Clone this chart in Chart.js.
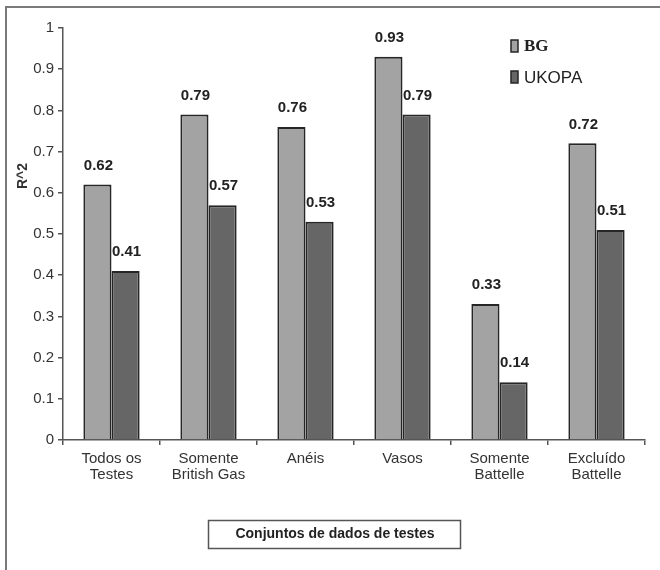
<!DOCTYPE html>
<html>
<head>
<meta charset="utf-8">
<script src="https://cdn.jsdelivr.net/npm/chart.js@4"></script>
<style>
  html, body { margin: 0; padding: 0; background: #fff; }
  #wrap { width: 660px; height: 570px; position: relative; }
</style>
</head>
<body>
<div id="wrap"><canvas id="rChart" width="660" height="570"></canvas></div>
<script>
// categories and values
const categories = [
    ['Todos os', 'Testes'],
    ['Somente', 'British Gas'],
    'Anéis',
    'Vasos',
    ['Somente', 'Battelle'],
    ['Excluído', 'Battelle']
];
const bgValues = [0.62, 0.79, 0.76, 0.93, 0.33, 0.72];
const ukopaValues = [0.41, 0.57, 0.53, 0.79, 0.14, 0.51];
const seriesNames = ['BG', 'UKOPA'];
const axisTitle = 'R^2';
const boxTitle = 'Conjuntos de dados de testes';

const bgFill = '#a3a3a3';
const ukFill = '#666666';
const edge = '#262626';

// frame, value labels, legend and the boxed category caption
const extras = {
    id: 'extras',
    beforeDraw(chart) {
        const c = chart.ctx;
        c.save();
        c.fillStyle = '#fff';
        c.fillRect(0, 0, chart.width, chart.height);
        c.strokeStyle = '#7a7a7a';
        c.lineWidth = 2;
        c.beginPath();
        c.moveTo(6, chart.height + 2);
        c.lineTo(6, 7);
        c.lineTo(chart.width + 2, 7);
        c.stroke();
        c.restore();
    },
    afterDatasetsDraw(chart) {
        const c = chart.ctx;
        c.save();
        c.font = 'bold 15px "Liberation Sans", Arial, sans-serif';
        c.fillStyle = '#222';
        c.textAlign = 'center';
        c.textBaseline = 'middle';
        chart.data.datasets.forEach((ds, i) => {
            chart.getDatasetMeta(i).data.forEach((bar, j) => {
                c.fillText(ds.data[j].toFixed(2), bar.x + 1, bar.y - 19);
            });
        });

        // y axis title
        c.save();
        c.translate(23, 176);
        c.rotate(-Math.PI / 2);
        c.font = 'bold 14px "Liberation Sans", Arial, sans-serif';
        c.fillStyle = '#333';
        c.fillText(axisTitle, 0, 0);
        c.restore();

        // legend
        const fills = [bgFill, ukFill];
        const fonts = ['bold 17px "Liberation Serif", serif', '17px "Liberation Sans", Arial, sans-serif'];
        const ys = [46, 77];
        c.textAlign = 'left';
        seriesNames.forEach((name, i) => {
            c.fillStyle = fills[i];
            c.fillRect(511, ys[i] - 6, 7, 12);
            c.strokeStyle = edge;
            c.lineWidth = 1.5;
            c.strokeRect(511, ys[i] - 6, 7, 12);
            c.fillStyle = '#222';
            c.font = fonts[i];
            c.fillText(name, 524, ys[i] + 1);
        });

        // category caption box
        c.strokeStyle = '#555';
        c.lineWidth = 1.5;
        c.strokeRect(208.5, 520.5, 252, 28);
        c.font = 'bold 14px "Liberation Sans", Arial, sans-serif';
        c.fillStyle = '#222';
        c.textAlign = 'center';
        c.fillText(boxTitle, 335, 534);
        c.restore();
    }
};

new Chart(document.getElementById('rChart'), {
    type: 'bar',
    data: {
        labels: categories,
        datasets: [
            {
                label: seriesNames[0],
                data: bgValues,
                backgroundColor: bgFill,
                borderColor: edge,
                borderWidth: 2,
                categoryPercentage: 0.58,
                barPercentage: 1.0
            },
            {
                label: seriesNames[1],
                data: ukopaValues,
                backgroundColor: ukFill,
                borderColor: edge,
                borderWidth: 2,
                categoryPercentage: 0.58,
                barPercentage: 1.0
            }
        ]
    },
    options: {
        responsive: false,
        animation: false,
        layout: { padding: { left: 0, right: 15, top: 28, bottom: 0 } },
        plugins: {
            legend: { display: false },
            tooltip: { enabled: false }
        },
        scales: {
            x: {
                grid: {
                    display: true,
                    drawOnChartArea: false,
                    drawTicks: true,
                    tickLength: 5,
                    color: '#555',
                    lineWidth: 1.5
                },
                border: { display: true, color: '#555', width: 1.5 },
                ticks: {
                    color: '#333',
                    padding: 6,
                    maxRotation: 0,
                    autoSkip: false,
                    font: { family: '"Liberation Sans", Arial, sans-serif', size: 15, lineHeight: 1.08 }
                },
                afterFit(scale) { scale.height = 130; }
            },
            y: {
                min: 0,
                max: 1,
                ticks: {
                    stepSize: 0.1,
                    color: '#333',
                    padding: 4,
                    font: { family: '"Liberation Sans", Arial, sans-serif', size: 15 },
                    callback: v => String(+v.toFixed(1))
                },
                grid: {
                    display: true,
                    drawOnChartArea: false,
                    drawTicks: true,
                    tickLength: 5,
                    color: '#555',
                    lineWidth: 1.5
                },
                border: { display: true, color: '#555', width: 1.5 },
                afterFit(scale) { scale.width = 63; }
            }
        }
    },
    plugins: [extras]
});
</script>
</body>
</html>
